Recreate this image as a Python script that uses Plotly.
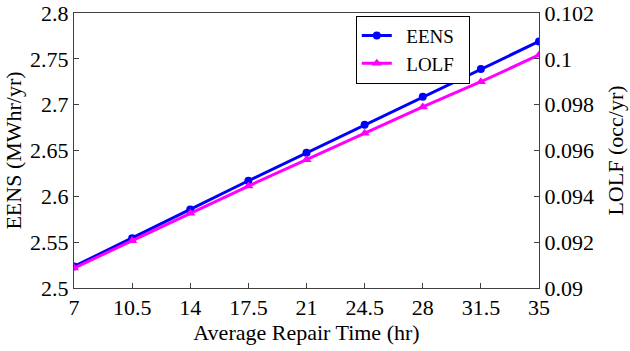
import plotly.graph_objects as go

repair_time = [7, 10.5, 14, 17.5, 21, 24.5, 28, 31.5, 35]
eens = [2.5235, 2.5543, 2.5857, 2.6170, 2.6475, 2.6782, 2.7087, 2.7389, 2.7690]
lolf = [0.09087, 0.09206, 0.09326, 0.09445, 0.09560, 0.09675, 0.09790, 0.09900, 0.10017]

x_ticks = [7, 10.5, 14, 17.5, 21, 24.5, 28, 31.5, 35]
y1_ticks = [2.5, 2.55, 2.6, 2.65, 2.7, 2.75, 2.8]
y1_labels = ["2.5", "2.55", "2.6", "2.65", "2.7", "2.75", "2.8"]
y2_ticks = [0.09, 0.092, 0.094, 0.096, 0.098, 0.1, 0.102]
y2_labels = ["0.09", "0.092", "0.094", "0.096", "0.098", "0.1", "0.102"]

font_family = "Liberation Serif, Times New Roman, serif"
axis_col = "#404040"
fs = 22
tf = dict(family=font_family, size=fs, color="black")
nb = "\u00a0\u00a0"

fig = go.Figure()
fig.add_trace(go.Scatter(
    x=repair_time, y=eens, name=nb + "EENS" + nb, mode="lines+markers",
    line=dict(color="#0000ff", width=3),
    marker=dict(symbol="circle", size=8, color="#0000ff"),
    yaxis="y"))
fig.add_trace(go.Scatter(
    x=repair_time, y=lolf, name=nb + "LOLF" + nb, mode="lines+markers",
    line=dict(color="#ff00ff", width=3),
    marker=dict(symbol="triangle-up", size=9, color="#ff00ff"),
    yaxis="y2"))

fig.update_layout(
    width=630, height=351,
    margin=dict(l=74, r=91, t=13, b=63),
    paper_bgcolor="white", plot_bgcolor="white",
    font=tf,
    showlegend=True,
    legend=dict(x=0.606, y=0.99, xanchor="left", yanchor="top",
                bgcolor="white", bordercolor="black", borderwidth=1,
                font=dict(size=19, family=font_family, color="black"),
                tracegroupgap=0, itemwidth=30),
    xaxis=dict(range=[7, 35], tickvals=x_ticks,
               ticktext=[str(v) for v in x_ticks], tickfont=tf,
               ticks="inside", ticklen=5, tickcolor=axis_col,
               showline=True, linecolor=axis_col, linewidth=1, mirror=True,
               showgrid=False, zeroline=False, automargin=False,
               title=dict(text="Average Repair Time (hr)", standoff=5, font=tf)),
    yaxis=dict(range=[2.5, 2.8], tickvals=y1_ticks, ticktext=y1_labels, tickfont=tf,
               ticks="inside", ticklen=5, tickcolor=axis_col,
               showline=True, linecolor=axis_col, linewidth=1,
               showgrid=False, zeroline=False, automargin=False,
               title=dict(text="EENS (MWhr/yr)", standoff=2, font=tf)),
    yaxis2=dict(range=[0.09, 0.102], tickvals=y2_ticks, ticktext=y2_labels, tickfont=tf,
                overlaying="y", side="right",
                ticks="inside", ticklen=5, tickcolor=axis_col,
                showline=True, linecolor=axis_col, linewidth=1,
                showgrid=False, zeroline=False, automargin=False,
                title=dict(text="LOLF (occ/yr)", standoff=14, font=tf)),
)

fig.write_html("out.html")
